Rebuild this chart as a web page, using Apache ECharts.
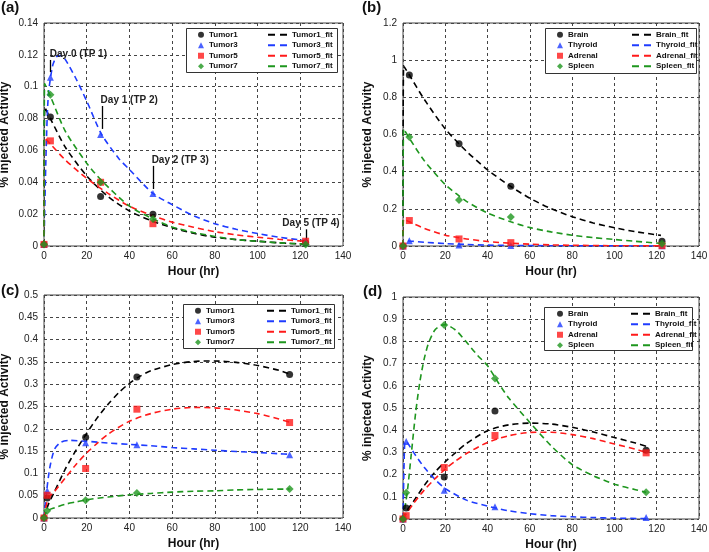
<!DOCTYPE html>
<html><head><meta charset="utf-8">
<script src="https://cdn.jsdelivr.net/npm/echarts@6/dist/echarts.min.js"></script>
<style>html,body{margin:0;padding:0;background:#fff}#c{width:709px;height:552px}</style>
</head><body><div id="c"></div>
<script>
// ---------- DATA ----------
const xTicks = [0, 20, 40, 60, 80, 100, 120, 140];
// Panel (a)
const aHours = [0, 3, 26.5, 51, 122.5];
const aTumor1 = [0.001, 0.081, 0.031, 0.020, 0.002];
const aTumor3 = [0.001, 0.106, 0.070, 0.033, 0.003];
const aTumor5 = [0.001, 0.066, 0.040, 0.014, 0.003];
const aTumor7 = [0.001, 0.095, 0.040, 0.017, 0.001];
const aTumor1Fit = [[0,0],[0.4,0.087],[3,0.080],[10,0.062],[20,0.044],[30,0.031],[40,0.022],[50,0.016],[60,0.0115],[70,0.008],[80,0.0055],[90,0.004],[100,0.003],[110,0.002],[122,0.0012]];
const aTumor3Fit = [[0,0],[1,0.06],[2,0.094],[4,0.113],[6,0.119],[8,0.1195],[10,0.117],[15,0.105],[20,0.091],[27,0.070],[35,0.055],[40,0.048],[51,0.033],[60,0.026],[70,0.019],[80,0.014],[90,0.0105],[100,0.0078],[110,0.0055],[122,0.0035]];
const aTumor5Fit = [[0,0],[0.4,0.068],[3,0.064],[10,0.054],[20,0.0425],[30,0.033],[40,0.025],[51,0.019],[60,0.015],[70,0.0118],[80,0.009],[90,0.007],[100,0.0055],[110,0.0042],[122,0.003]];
const aTumor7Fit = [[0,0],[0.3,0.102],[3,0.094],[10,0.072],[20,0.052],[27,0.041],[40,0.025],[51,0.017],[60,0.012],[70,0.0085],[80,0.006],[90,0.004],[100,0.003],[110,0.002],[122,0.0012]];
// Panel (b)
const bHours = [0, 3, 26.5, 51, 122.5];
const bBrain = [0, 0.92, 0.55, 0.322, 0.025];
const bThyroid = [0, 0.028, 0.006, 0.003, 0.001];
const bAdrenal = [0, 0.137, 0.038, 0.018, 0.002];
const bSpleen = [0, 0.586, 0.248, 0.156, 0.012];
const bBrainFit = [[0,0],[0.3,0.97],[3,0.92],[10,0.79],[20,0.63],[30,0.51],[40,0.41],[51,0.32],[60,0.257],[70,0.201],[80,0.158],[90,0.124],[100,0.098],[110,0.077],[122,0.057]];
const bThyroidFit = [[0,0],[0.3,0.03],[3,0.027],[10,0.02],[20,0.013],[30,0.008],[40,0.005],[51,0.003],[60,0.002],[80,0.001],[100,0.0005],[122,0.0002]];
const bAdrenalFit = [[0,0],[0.3,0.145],[3,0.13],[10,0.095],[20,0.058],[26.5,0.045],[30,0.038],[40,0.024],[51,0.015],[60,0.01],[70,0.006],[80,0.004],[100,0.0015],[122,0.0005]];
const bSpleenFit = [[0,0],[0.3,0.63],[3,0.58],[10,0.46],[20,0.33],[26.5,0.27],[30,0.24],[40,0.177],[51,0.13],[60,0.099],[70,0.076],[80,0.058],[90,0.045],[100,0.035],[110,0.025],[122,0.014]];
// Panel (c)
const cHours = [0, 1.5, 19.5, 43.5, 115];
const cTumor1 = [0, 0.045, 0.181, 0.316, 0.322];
const cTumor3 = [0, 0.061, 0.169, 0.164, 0.142];
const cTumor5 = [0, 0.051, 0.111, 0.244, 0.214];
const cTumor7 = [0, 0.016, 0.040, 0.056, 0.065];
const cTumor1Fit = [[0,0],[2,0.03],[5,0.06],[10,0.11],[15,0.152],[20,0.19],[25,0.225],[30,0.255],[35,0.281],[40,0.302],[45,0.318],[50,0.33],[60,0.344],[70,0.351],[80,0.352],[90,0.349],[100,0.342],[110,0.331],[115,0.323]];
const cTumor3Fit = [[0,0],[1,0.05],[2,0.09],[3,0.12],[5,0.155],[8,0.17],[12,0.174],[20,0.172],[30,0.168],[40,0.165],[50,0.162],[60,0.158],[70,0.155],[80,0.152],[90,0.149],[100,0.147],[110,0.144],[115,0.143]];
const cTumor5Fit = [[0,0],[2,0.045],[5,0.06],[10,0.09],[15,0.12],[20,0.146],[25,0.168],[30,0.188],[40,0.217],[50,0.234],[60,0.244],[70,0.248],[80,0.247],[90,0.242],[100,0.234],[110,0.222],[115,0.215]];
const cTumor7Fit = [[0,0],[1.5,0.016],[5,0.023],[10,0.031],[15,0.036],[20,0.041],[30,0.047],[40,0.052],[50,0.055],[60,0.058],[70,0.06],[80,0.061],[90,0.063],[100,0.064],[115,0.065]];
// Panel (d)
const dHours = [0, 1.5, 19.5, 43.5, 115];
const dBrain = [0, 0.049, 0.189, 0.486, 0.31];
const dThyroid = [0, 0.349, 0.130, 0.055, 0.007];
const dAdrenal = [0, 0.015, 0.232, 0.376, 0.298];
const dSpleen = [0, 0.118, 0.874, 0.633, 0.12];
const dBrainFit = [[0,0],[2,0.04],[5,0.08],[10,0.15],[15,0.21],[20,0.258],[25,0.30],[30,0.34],[40,0.398],[50,0.424],[60,0.432],[70,0.428],[80,0.413],[90,0.392],[100,0.367],[110,0.342],[115,0.328]];
const dThyroidFit = [[0,0],[0.4,0.2],[1,0.35],[2,0.345],[5,0.30],[10,0.233],[15,0.18],[20,0.137],[30,0.085],[40,0.058],[50,0.037],[60,0.024],[70,0.015],[80,0.01],[90,0.0065],[100,0.004],[115,0.002]];
const dAdrenalFit = [[0,0],[2,0.03],[5,0.07],[10,0.13],[15,0.18],[20,0.225],[25,0.262],[30,0.295],[40,0.345],[50,0.375],[60,0.39],[70,0.391],[80,0.38],[90,0.362],[100,0.338],[110,0.314],[115,0.30]];
const dSpleenFit = [[0,0],[2,0.12],[4,0.3],[6,0.48],[8,0.62],[10,0.72],[12,0.79],[15,0.85],[18,0.872],[20,0.875],[25,0.85],[30,0.797],[35,0.74],[40,0.69],[45,0.615],[50,0.545],[60,0.435],[70,0.33],[80,0.245],[90,0.195],[100,0.157],[110,0.132],[115,0.12]];
// Annotation texts (panel a)
const annoText = ['Day 0 (TP 1)', 'Day 1 (TP 2)', 'Day 2 (TP 3)', 'Day 5 (TP 4)'];
const annoTextPos = [[2.7,0.1205],[26.5,0.0918],[50.4,0.0541],[111.6,0.0140]];
const annoArrows = [[3,0.1168,0.1092],[27.5,0.0879,0.0735],[51,0.0503,0.0358],[122.8,0.0105,0.0029]];

// ---------- STYLE ----------
const BLACK='#000000', BLUE='#1f3cff', RED='#ff1a1a', GREEN='#1e961e';
const FONT='Liberation Sans, Arial, sans-serif';
const grids = [
  {left:44, top:23, width:299, height:223},
  {left:403, top:23, width:296, height:223},
  {left:44, top:295, width:299, height:223},
  {left:403, top:297, width:296, height:222}
];
const yCfg = [{max:0.14, interval:0.02},{max:1.2, interval:0.2},{max:0.5, interval:0.05},{max:1, interval:0.1}];

function scatter(name, xs, ys, symbol, size, color, gi) {
  return {type:'scatter', name, xAxisIndex:gi, yAxisIndex:gi, symbol, symbolSize:size,
    itemStyle:{color}, z:5, data: xs.map((x,i)=>[x, ys[i]])};
}
function fit(name, pts, color, gi) {
  return {type:'line', name, xAxisIndex:gi, yAxisIndex:gi, symbol:'none', showSymbol:false, smooth:0.25,
    lineStyle:{color, width:1.6, type:[6,4]}, itemStyle:{color}, z:3, data: pts};
}
const series = [
  scatter('Tumor1', aHours, aTumor1, 'circle', 7, BLACK, 0),
  scatter('Tumor3', aHours, aTumor3, 'triangle', 7, BLUE, 0),
  scatter('Tumor5', aHours, aTumor5, 'rect', 7, RED, 0),
  scatter('Tumor7', aHours, aTumor7, 'diamond', 8, GREEN, 0),
  fit('Tumor1_fit', aTumor1Fit, BLACK, 0),
  fit('Tumor3_fit', aTumor3Fit, BLUE, 0),
  fit('Tumor5_fit', aTumor5Fit, RED, 0),
  fit('Tumor7_fit', aTumor7Fit, GREEN, 0),
  scatter('Brain', bHours, bBrain, 'circle', 7, BLACK, 1),
  scatter('Thyroid', bHours, bThyroid, 'triangle', 7, BLUE, 1),
  scatter('Adrenal', bHours, bAdrenal, 'rect', 7, RED, 1),
  scatter('Spleen', bHours, bSpleen, 'diamond', 8, GREEN, 1),
  fit('Brain_fit', bBrainFit, BLACK, 1),
  fit('Thyroid_fit', bThyroidFit, BLUE, 1),
  fit('Adrenal_fit', bAdrenalFit, RED, 1),
  fit('Spleen_fit', bSpleenFit, GREEN, 1),
  scatter('Tumor1', cHours, cTumor1, 'circle', 7, BLACK, 2),
  scatter('Tumor3', cHours, cTumor3, 'triangle', 7, BLUE, 2),
  scatter('Tumor5', cHours, cTumor5, 'rect', 7, RED, 2),
  scatter('Tumor7', cHours, cTumor7, 'diamond', 8, GREEN, 2),
  fit('Tumor1_fit', cTumor1Fit, BLACK, 2),
  fit('Tumor3_fit', cTumor3Fit, BLUE, 2),
  fit('Tumor5_fit', cTumor5Fit, RED, 2),
  fit('Tumor7_fit', cTumor7Fit, GREEN, 2),
  scatter('Brain', dHours, dBrain, 'circle', 7, BLACK, 3),
  scatter('Thyroid', dHours, dThyroid, 'triangle', 7, BLUE, 3),
  scatter('Adrenal', dHours, dAdrenal, 'rect', 7, RED, 3),
  scatter('Spleen', dHours, dSpleen, 'diamond', 8, GREEN, 3),
  fit('Brain_fit', dBrainFit, BLACK, 3),
  fit('Thyroid_fit', dThyroidFit, BLUE, 3),
  fit('Adrenal_fit', dAdrenalFit, RED, 3),
  fit('Spleen_fit', dSpleenFit, GREEN, 3)
];
// annotation series on panel (a)
series.push({
  type:'scatter', name:'anno', xAxisIndex:0, yAxisIndex:0, data:[], silent:true, z:6,
  markLine:{silent:true, symbol:['none','arrow'], symbolSize:[0,7], label:{show:false},
    lineStyle:{color:'#000', width:1.3, type:'solid'},
    data: annoArrows.map(a=>[{coord:[a[0],a[1]]},{coord:[a[0],a[2]]}])},
  markPoint:{silent:true, symbol:'circle', symbolSize:0,
    label:{show:true, position:'right', distance:0, formatter:'{b}', color:'#222', fontFamily:FONT, fontWeight:'bold', fontSize:10},
    data: annoText.map((t,i)=>({name:t, coord:annoTextPos[i]}))}
});

const leftNames = [['Tumor1','Tumor3','Tumor5','Tumor7'],['Brain','Thyroid','Adrenal','Spleen']];
const legendColors = [BLACK, BLUE, RED, GREEN];
const legendPos = [
  {l:[198,30], r:[268,30], names:0},
  {l:[557,30], r:[632,30], names:1},
  {l:[195,306], r:[267,306], names:0},
  {l:[557,309], r:[631,309], names:1}
];
const DASH_ICON = 'path://M0,0L7,0L7,2L0,2Z M12,0L19,0L19,2L12,2Z';
const legends = [];
legendPos.forEach(p=>{
  const base = {orient:'vertical', itemGap:1, selectedMode:false, padding:0, z:10,
    textStyle:{fontFamily:FONT, fontSize:8, fontWeight:'bold', color:'#111', lineHeight:9.5}};
  legends.push(Object.assign({}, base, {left:p.l[0], top:p.l[1], itemWidth:6, itemHeight:6,
    data:leftNames[p.names].map((n,i)=>({name:n, itemStyle:{color:legendColors[i]}}))}));
  legends.push(Object.assign({}, base, {left:p.r[0], top:p.r[1], itemWidth:19, itemHeight:2, icon:DASH_ICON,
    data:leftNames[p.names].map((n,i)=>({name:n+'_fit', itemStyle:{color:legendColors[i]}}))}));
});

const boxes = [[186,28,151,44],[545,28,151,45],[183,304,151,44],[544,307,148,43]];
const labels = [['(a)',1,0],['(b)',362,0],['(c)',1,283],['(d)',363,284]];

const option = {
  animation:false,
  textStyle:{fontFamily:FONT},
  grid: grids.map(g=>Object.assign({show:true, borderColor:'#444', borderWidth:1, backgroundColor:'transparent', outerBoundsMode:'none', containLabel:false}, g)),
  xAxis: grids.map((g,i)=>({type:'value', gridIndex:i, min:xTicks[0], max:xTicks[xTicks.length-1], interval:20,
    name:'Hour (hr)', nameLocation:'middle', nameGap:20,
    nameTextStyle:{fontFamily:FONT, fontSize:12, fontWeight:'bold', color:'#111'},
    axisLine:{show:false}, axisTick:{show:false},
    axisLabel:{fontFamily:FONT, fontSize:10, color:'#222', margin:5},
    splitLine:{show:true, lineStyle:{color:'#444', width:1, type:[3,3]}}})),
  yAxis: yCfg.map((y,i)=>({type:'value', gridIndex:i, min:0, max:y.max, interval:y.interval,
    name:'% injected Activity', nameLocation:'middle', nameGap:[33,29,33,29][i],
    nameTextStyle:{fontFamily:FONT, fontSize:12, fontWeight:'bold', color:'#111'},
    axisLine:{show:false}, axisTick:{show:false},
    axisLabel:{fontFamily:FONT, fontSize:10, color:'#222', margin:6},
    splitLine:{show:true, lineStyle:{color:'#444', width:1, type:[3,3]}}})),
  legend: legends,
  graphic: boxes.map(b=>({type:'rect', left:b[0], top:b[1], z:8, silent:true,
      shape:{width:b[2], height:b[3]}, style:{fill:'#fff', stroke:'#333', lineWidth:1}}))
    .concat(labels.map(l=>({type:'text', left:l[1], top:l[2], z:10,
      style:{text:l[0], font:'bold 15px '+FONT, fill:'#111'}}))),
  series
};
const chart = echarts.init(document.getElementById('c'), null, {renderer:'canvas'});
chart.setOption(option);
</script></body></html>
